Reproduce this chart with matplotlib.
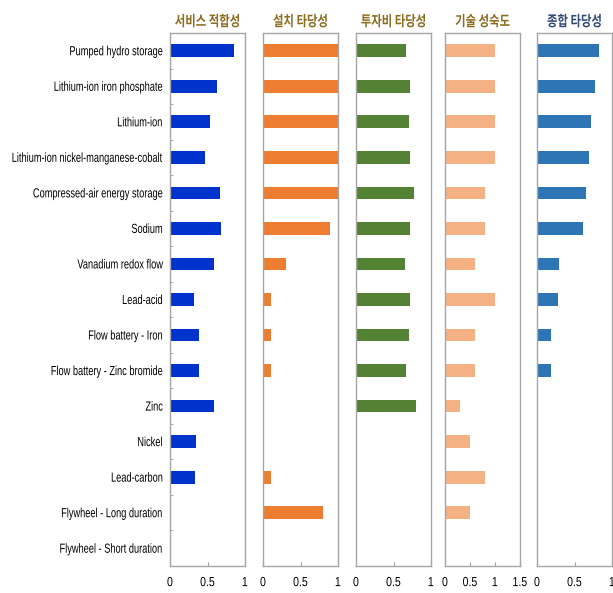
import numpy as np
import matplotlib
matplotlib.use("Agg")
import matplotlib.pyplot as plt
from matplotlib.patheffects import AbstractPathEffect
from matplotlib.transforms import Affine2D

plt.rcParams['font.family'] = ['Noto Sans CJK KR', 'DejaVu Sans']

# ---- data ------------------------------------------------------------------
techs = ["Pumped hydro storage", "Lithium-ion iron phosphate", "Lithium-ion",
         "Lithium-ion nickel-manganese-cobalt", "Compressed-air energy storage",
         "Sodium", "Vanadium redox flow", "Lead-acid", "Flow battery - Iron",
         "Flow battery - Zinc bromide", "Zinc", "Nickel", "Lead-carbon",
         "Flywheel - Long duration", "Flywheel - Short duration"]
service   = [0.85, 0.63, 0.53, 0.46, 0.67, 0.68, 0.58, 0.32, 0.39, 0.39, 0.59, 0.35, 0.33, 0, 0]
install   = [1.0, 1.0, 1.0, 1.0, 1.0, 0.90, 0.30, 0.10, 0.10, 0.10, 0, 0, 0.10, 0.80, 0]
invest    = [0.66, 0.72, 0.70, 0.72, 0.77, 0.72, 0.65, 0.72, 0.71, 0.67, 0.80, 0, 0, 0, 0]
maturity  = [1.0, 1.0, 1.0, 1.0, 0.8, 0.8, 0.6, 1.0, 0.6, 0.6, 0.3, 0.5, 0.8, 0.5, 0]
overall   = [0.82, 0.77, 0.72, 0.69, 0.65, 0.61, 0.29, 0.28, 0.19, 0.19, 0, 0, 0, 0, 0]

titles = ["서비스 적합성", "설치 타당성", "투자비 타당성", "기술 성숙도", "종합 타당성"]
series = [service, install, invest, maturity, overall]
colors = ["#0033CC", "#ED7D31", "#548235", "#F4B183", "#2E75B6"]
title_colors = ["#8C6D1F", "#8C6D1F", "#8C6D1F", "#8C6D1F", "#2F4A75"]
xmax = [1, 1, 1, 1.5, 1]
xticks = [[0, 0.5, 1], [0, 0.5, 1], [0, 0.5, 1], [0, 0.5, 1, 1.5], [0, 0.5, 1]]


class Squeeze(AbstractPathEffect):
    """narrow the glyphs horizontally (no condensed font installed)"""
    def __init__(self, s, anchor="center"):
        super().__init__()
        self.s, self.anchor = s, anchor

    def draw_path(self, renderer, gc, tpath, affine, rgbFace=None):
        v = tpath.vertices
        if len(v):
            x0, x1 = v[:, 0].min(), v[:, 0].max()
            xa = {"left": x0, "right": x1}.get(self.anchor, (x0 + x1) / 2)
            affine = Affine2D().translate(-xa, 0).scale(self.s, 1).translate(xa, 0) + affine
        renderer.draw_path(gc, tpath, affine, rgbFace)


LAT = ['Liberation Sans', 'DejaVu Sans']
fig = plt.figure(figsize=(6.13, 5.93), dpi=100)
lefts = [170, 263, 356, 445, 537]
W, H = 613, 593
y = np.arange(len(techs))

for k in range(5):
    ax = fig.add_axes([lefts[k] / W, 27 / H, 75 / W, 533 / H])
    ax.barh(y, series[k], height=0.36, color=colors[k])
    ax.set_ylim(len(techs) - 0.5, -0.5)
    ax.set_xlim(0, xmax[k])
    ax.set_xticks(xticks[k])
    ax.set_xticklabels([f"{v:g}" for v in xticks[k]], family=LAT, fontsize=9.5)
    ax.tick_params(axis='x', direction='in', length=3, color="#A0A0A0", pad=8)
    for t in ax.get_xticklabels():
        t.set_path_effects([Squeeze(0.8)])
    if k == 0:
        ax.set_yticks(y)
        ax.set_yticklabels(techs, family=LAT, fontsize=9.5)
        ax.set_yticks(np.arange(len(techs) - 1) + 0.5, minor=True)
        ax.tick_params(axis='y', which='major', length=0, pad=5)
        ax.tick_params(axis='y', which='minor', direction='in', length=2, color="#A0A0A0")
        for t in ax.get_yticklabels():
            t.set_path_effects([Squeeze(0.7, "right")])
    else:
        ax.set_yticks([])
    for s in ax.spines.values():
        s.set_color("#A6A6A6")
        s.set_linewidth(1.0)
    tt = ax.set_title(titles[k], color=title_colors[k], fontsize=10.5, fontweight='bold', pad=5)
    tt.set_path_effects([Squeeze(0.78)])

fig.savefig("out.png", dpi=100)
